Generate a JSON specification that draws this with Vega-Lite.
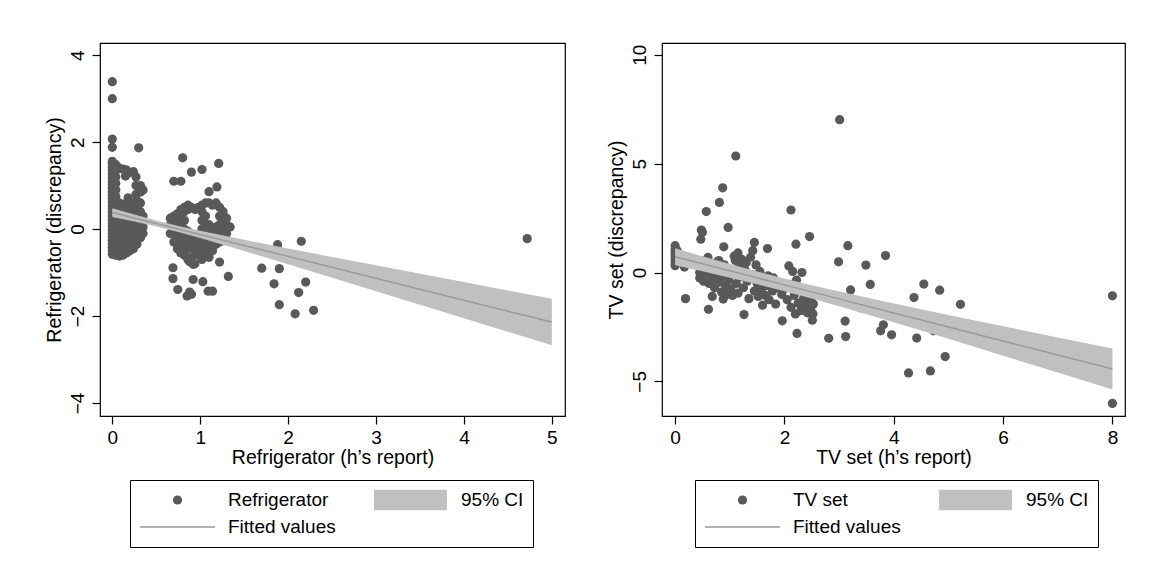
{
"$schema":"https://vega.github.io/schema/vega-lite/v6.json",
"padding":{"left":43,"top":42,"right":0,"bottom":0},
"background":"#ffffff",
"bounds":"flush",
"spacing":97,
"resolve":{"scale":{"color":"independent","shape":"independent","size":"independent"},"legend":{"color":"independent","shape":"independent","size":"independent"}},
"datasets":{
"fridge":[
{"x":0,"y":-0.58,"s":"Refrigerator"},{"x":0,"y":-0.5,"s":"Refrigerator"},{"x":0,"y":-0.42,"s":"Refrigerator"},{"x":0,"y":-0.34,"s":"Refrigerator"},{"x":0,"y":-0.26,"s":"Refrigerator"},{"x":0,"y":-0.18,"s":"Refrigerator"},{"x":0,"y":-0.1,"s":"Refrigerator"},{"x":0,"y":-0.02,"s":"Refrigerator"},{"x":0,"y":0.06,"s":"Refrigerator"},{"x":0,"y":0.14,"s":"Refrigerator"},{"x":0,"y":0.22,"s":"Refrigerator"},{"x":0,"y":0.3,"s":"Refrigerator"},{"x":0,"y":0.38,"s":"Refrigerator"},{"x":0,"y":0.46,"s":"Refrigerator"},{"x":0,"y":0.54,"s":"Refrigerator"},{"x":0,"y":0.62,"s":"Refrigerator"},{"x":0,"y":0.7,"s":"Refrigerator"},{"x":0,"y":0.78,"s":"Refrigerator"},{"x":0,"y":0.86,"s":"Refrigerator"},{"x":0,"y":0.94,"s":"Refrigerator"},{"x":0,"y":1.02,"s":"Refrigerator"},{"x":0,"y":1.1,"s":"Refrigerator"},{"x":0,"y":1.18,"s":"Refrigerator"},{"x":0,"y":1.26,"s":"Refrigerator"},{"x":0,"y":1.34,"s":"Refrigerator"},{"x":0,"y":1.42,"s":"Refrigerator"},{"x":0,"y":1.5,"s":"Refrigerator"},{"x":0,"y":1.56,"s":"Refrigerator"},{"x":0,"y":1.88,"s":"Refrigerator"},{"x":0,"y":2.07,"s":"Refrigerator"},{"x":0,"y":3.0,"s":"Refrigerator"},{"x":0,"y":3.39,"s":"Refrigerator"},
{"x":0.04,"y":-0.6,"s":"Refrigerator"},{"x":0.04,"y":-0.45,"s":"Refrigerator"},{"x":0.04,"y":-0.3,"s":"Refrigerator"},{"x":0.04,"y":-0.15,"s":"Refrigerator"},{"x":0.04,"y":0,"s":"Refrigerator"},{"x":0.04,"y":0.15,"s":"Refrigerator"},{"x":0.04,"y":0.3,"s":"Refrigerator"},{"x":0.04,"y":0.45,"s":"Refrigerator"},{"x":0.04,"y":0.6,"s":"Refrigerator"},{"x":0.04,"y":0.75,"s":"Refrigerator"},{"x":0.04,"y":0.9,"s":"Refrigerator"},{"x":0.04,"y":1.05,"s":"Refrigerator"},{"x":0.04,"y":1.2,"s":"Refrigerator"},{"x":0.04,"y":1.35,"s":"Refrigerator"},{"x":0.04,"y":1.48,"s":"Refrigerator"},
{"x":0.08,"y":-0.62,"s":"Refrigerator"},{"x":0.08,"y":-0.4,"s":"Refrigerator"},{"x":0.08,"y":-0.2,"s":"Refrigerator"},{"x":0.08,"y":0,"s":"Refrigerator"},{"x":0.08,"y":0.2,"s":"Refrigerator"},{"x":0.08,"y":0.4,"s":"Refrigerator"},{"x":0.08,"y":0.6,"s":"Refrigerator"},{"x":0.08,"y":1.4,"s":"Refrigerator"},
{"x":0.12,"y":-0.6,"s":"Refrigerator"},{"x":0.12,"y":-0.45,"s":"Refrigerator"},{"x":0.12,"y":-0.25,"s":"Refrigerator"},{"x":0.12,"y":-0.05,"s":"Refrigerator"},{"x":0.12,"y":0.15,"s":"Refrigerator"},{"x":0.12,"y":0.35,"s":"Refrigerator"},{"x":0.12,"y":0.55,"s":"Refrigerator"},{"x":0.12,"y":1.38,"s":"Refrigerator"},
{"x":0.16,"y":-0.55,"s":"Refrigerator"},{"x":0.16,"y":-0.35,"s":"Refrigerator"},{"x":0.16,"y":-0.15,"s":"Refrigerator"},{"x":0.16,"y":0.05,"s":"Refrigerator"},{"x":0.16,"y":0.25,"s":"Refrigerator"},{"x":0.16,"y":0.45,"s":"Refrigerator"},{"x":0.16,"y":0.6,"s":"Refrigerator"},{"x":0.16,"y":1.36,"s":"Refrigerator"},{"x":0.15,"y":1.22,"s":"Refrigerator"},{"x":0.18,"y":0.72,"s":"Refrigerator"},
{"x":0.2,"y":-0.5,"s":"Refrigerator"},{"x":0.2,"y":-0.3,"s":"Refrigerator"},{"x":0.2,"y":-0.1,"s":"Refrigerator"},{"x":0.2,"y":0.1,"s":"Refrigerator"},{"x":0.2,"y":0.3,"s":"Refrigerator"},{"x":0.2,"y":0.5,"s":"Refrigerator"},{"x":0.2,"y":0.62,"s":"Refrigerator"},{"x":0.2,"y":1.3,"s":"Refrigerator"},
{"x":0.24,"y":-0.45,"s":"Refrigerator"},{"x":0.24,"y":-0.25,"s":"Refrigerator"},{"x":0.24,"y":-0.05,"s":"Refrigerator"},{"x":0.24,"y":0.15,"s":"Refrigerator"},{"x":0.24,"y":0.35,"s":"Refrigerator"},{"x":0.24,"y":0.55,"s":"Refrigerator"},{"x":0.24,"y":1.32,"s":"Refrigerator"},
{"x":0.27,"y":0.8,"s":"Refrigerator"},{"x":0.27,"y":1.0,"s":"Refrigerator"},{"x":0.27,"y":1.2,"s":"Refrigerator"},
{"x":0.28,"y":-0.35,"s":"Refrigerator"},{"x":0.28,"y":-0.15,"s":"Refrigerator"},{"x":0.28,"y":0.05,"s":"Refrigerator"},{"x":0.28,"y":0.25,"s":"Refrigerator"},{"x":0.28,"y":0.45,"s":"Refrigerator"},{"x":0.28,"y":0.65,"s":"Refrigerator"},
{"x":0.32,"y":-0.2,"s":"Refrigerator"},{"x":0.32,"y":0,"s":"Refrigerator"},{"x":0.32,"y":0.2,"s":"Refrigerator"},{"x":0.32,"y":0.4,"s":"Refrigerator"},{"x":0.32,"y":0.6,"s":"Refrigerator"},{"x":0.32,"y":0.85,"s":"Refrigerator"},{"x":0.32,"y":1.0,"s":"Refrigerator"},
{"x":0.35,"y":-0.1,"s":"Refrigerator"},{"x":0.35,"y":0.05,"s":"Refrigerator"},{"x":0.35,"y":0.3,"s":"Refrigerator"},{"x":0.35,"y":0.9,"s":"Refrigerator"},{"x":0.3,"y":1.87,"s":"Refrigerator"},
{"x":0.66,"y":-0.1,"s":"Refrigerator"},{"x":0.66,"y":0.1,"s":"Refrigerator"},{"x":0.66,"y":0.25,"s":"Refrigerator"},
{"x":0.7,"y":-0.3,"s":"Refrigerator"},{"x":0.7,"y":-0.1,"s":"Refrigerator"},{"x":0.7,"y":0.1,"s":"Refrigerator"},{"x":0.7,"y":0.3,"s":"Refrigerator"},
{"x":0.74,"y":-0.45,"s":"Refrigerator"},{"x":0.74,"y":-0.25,"s":"Refrigerator"},{"x":0.74,"y":-0.05,"s":"Refrigerator"},{"x":0.74,"y":0.15,"s":"Refrigerator"},{"x":0.74,"y":0.35,"s":"Refrigerator"},
{"x":0.78,"y":-0.55,"s":"Refrigerator"},{"x":0.78,"y":-0.35,"s":"Refrigerator"},{"x":0.78,"y":-0.15,"s":"Refrigerator"},{"x":0.78,"y":0.05,"s":"Refrigerator"},{"x":0.78,"y":0.25,"s":"Refrigerator"},{"x":0.78,"y":0.45,"s":"Refrigerator"},
{"x":0.82,"y":-0.6,"s":"Refrigerator"},{"x":0.82,"y":-0.4,"s":"Refrigerator"},{"x":0.82,"y":-0.2,"s":"Refrigerator"},{"x":0.82,"y":0,"s":"Refrigerator"},{"x":0.82,"y":0.2,"s":"Refrigerator"},{"x":0.82,"y":0.4,"s":"Refrigerator"},{"x":0.82,"y":0.5,"s":"Refrigerator"},
{"x":0.86,"y":-0.7,"s":"Refrigerator"},{"x":0.86,"y":-0.45,"s":"Refrigerator"},{"x":0.86,"y":-0.25,"s":"Refrigerator"},{"x":0.86,"y":-0.05,"s":"Refrigerator"},{"x":0.86,"y":0.45,"s":"Refrigerator"},{"x":0.86,"y":0.55,"s":"Refrigerator"},
{"x":0.9,"y":-0.65,"s":"Refrigerator"},{"x":0.9,"y":-0.4,"s":"Refrigerator"},{"x":0.9,"y":-0.2,"s":"Refrigerator"},{"x":0.9,"y":0.5,"s":"Refrigerator"},
{"x":0.94,"y":-0.8,"s":"Refrigerator"},{"x":0.94,"y":-0.5,"s":"Refrigerator"},{"x":0.94,"y":-0.3,"s":"Refrigerator"},{"x":0.94,"y":0.45,"s":"Refrigerator"},
{"x":0.98,"y":-0.6,"s":"Refrigerator"},{"x":0.98,"y":-0.35,"s":"Refrigerator"},{"x":0.98,"y":-0.15,"s":"Refrigerator"},{"x":0.98,"y":0.5,"s":"Refrigerator"},
{"x":1.02,"y":-0.7,"s":"Refrigerator"},{"x":1.02,"y":-0.45,"s":"Refrigerator"},{"x":1.02,"y":-0.2,"s":"Refrigerator"},{"x":1.02,"y":0,"s":"Refrigerator"},{"x":1.02,"y":0.2,"s":"Refrigerator"},{"x":1.02,"y":0.4,"s":"Refrigerator"},{"x":1.02,"y":0.55,"s":"Refrigerator"},
{"x":1.06,"y":-0.55,"s":"Refrigerator"},{"x":1.06,"y":-0.3,"s":"Refrigerator"},{"x":1.06,"y":-0.1,"s":"Refrigerator"},{"x":1.06,"y":0.1,"s":"Refrigerator"},{"x":1.06,"y":0.3,"s":"Refrigerator"},{"x":1.06,"y":0.6,"s":"Refrigerator"},
{"x":1.1,"y":-0.65,"s":"Refrigerator"},{"x":1.1,"y":-0.4,"s":"Refrigerator"},{"x":1.1,"y":-0.2,"s":"Refrigerator"},{"x":1.1,"y":0,"s":"Refrigerator"},{"x":1.1,"y":0.1,"s":"Refrigerator"},{"x":1.1,"y":0.6,"s":"Refrigerator"},
{"x":1.14,"y":-0.5,"s":"Refrigerator"},{"x":1.14,"y":-0.25,"s":"Refrigerator"},{"x":1.14,"y":-0.05,"s":"Refrigerator"},{"x":1.14,"y":0.55,"s":"Refrigerator"},
{"x":1.18,"y":-0.35,"s":"Refrigerator"},{"x":1.18,"y":-0.1,"s":"Refrigerator"},{"x":1.18,"y":0.05,"s":"Refrigerator"},{"x":1.18,"y":0.6,"s":"Refrigerator"},
{"x":1.22,"y":-0.3,"s":"Refrigerator"},{"x":1.22,"y":-0.1,"s":"Refrigerator"},{"x":1.22,"y":0.1,"s":"Refrigerator"},{"x":1.22,"y":0.3,"s":"Refrigerator"},{"x":1.22,"y":0.5,"s":"Refrigerator"},
{"x":1.26,"y":-0.2,"s":"Refrigerator"},{"x":1.26,"y":0,"s":"Refrigerator"},{"x":1.26,"y":0.2,"s":"Refrigerator"},{"x":1.26,"y":0.4,"s":"Refrigerator"},
{"x":1.3,"y":-0.1,"s":"Refrigerator"},{"x":1.3,"y":0.1,"s":"Refrigerator"},{"x":1.3,"y":0.25,"s":"Refrigerator"},{"x":1.34,"y":0.05,"s":"Refrigerator"},
{"x":0.8,"y":1.64,"s":"Refrigerator"},{"x":0.7,"y":1.1,"s":"Refrigerator"},{"x":0.78,"y":1.1,"s":"Refrigerator"},{"x":0.9,"y":1.31,"s":"Refrigerator"},{"x":1.02,"y":1.37,"s":"Refrigerator"},{"x":1.21,"y":1.51,"s":"Refrigerator"},{"x":1.19,"y":0.97,"s":"Refrigerator"},{"x":1.1,"y":0.86,"s":"Refrigerator"},
{"x":0.69,"y":-0.89,"s":"Refrigerator"},{"x":0.69,"y":-1.14,"s":"Refrigerator"},{"x":0.745,"y":-1.39,"s":"Refrigerator"},{"x":0.85,"y":-1.54,"s":"Refrigerator"},{"x":0.9,"y":-1.5,"s":"Refrigerator"},{"x":0.88,"y":-1.45,"s":"Refrigerator"},{"x":0.92,"y":-1.16,"s":"Refrigerator"},{"x":0.92,"y":-0.81,"s":"Refrigerator"},{"x":0.88,"y":-0.75,"s":"Refrigerator"},{"x":1.03,"y":-1.21,"s":"Refrigerator"},{"x":1.09,"y":-1.43,"s":"Refrigerator"},{"x":1.14,"y":-1.43,"s":"Refrigerator"},{"x":1.22,"y":-0.76,"s":"Refrigerator"},{"x":1.32,"y":-1.09,"s":"Refrigerator"},{"x":1.05,"y":-0.62,"s":"Refrigerator"},{"x":1.1,"y":-0.55,"s":"Refrigerator"},
{"x":1.7,"y":-0.9,"s":"Refrigerator"},{"x":1.84,"y":-1.26,"s":"Refrigerator"},{"x":1.88,"y":-0.36,"s":"Refrigerator"},{"x":1.9,"y":-0.91,"s":"Refrigerator"},{"x":1.9,"y":-1.74,"s":"Refrigerator"},{"x":2.08,"y":-1.95,"s":"Refrigerator"},{"x":2.15,"y":-0.28,"s":"Refrigerator"},{"x":2.12,"y":-1.46,"s":"Refrigerator"},{"x":2.2,"y":-1.22,"s":"Refrigerator"},{"x":2.29,"y":-1.87,"s":"Refrigerator"},{"x":4.72,"y":-0.22,"s":"Refrigerator"}
],
"fridgefit":[
{"x":0,"fit":0.38,"lo":0.28,"hi":0.48},{"x":0.25,"fit":0.254,"lo":0.173,"hi":0.335},{"x":0.5,"fit":0.128,"lo":0.058,"hi":0.198},{"x":0.75,"fit":0.002,"lo":-0.069,"hi":0.073},{"x":1,"fit":-0.124,"lo":-0.208,"hi":-0.04},{"x":1.5,"fit":-0.376,"lo":-0.505,"hi":-0.247},{"x":2,"fit":-0.628,"lo":-0.81,"hi":-0.446},{"x":2.5,"fit":-0.88,"lo":-1.119,"hi":-0.641},{"x":3,"fit":-1.132,"lo":-1.429,"hi":-0.835},{"x":3.5,"fit":-1.384,"lo":-1.74,"hi":-1.028},{"x":4,"fit":-1.636,"lo":-2.052,"hi":-1.22},{"x":4.5,"fit":-1.888,"lo":-2.363,"hi":-1.413},{"x":5,"fit":-2.14,"lo":-2.675,"hi":-1.605}
],
"tv":[
{"x":0,"y":1.23,"s":"TV set"},{"x":0,"y":1.05,"s":"TV set"},{"x":0,"y":0.9,"s":"TV set"},{"x":0,"y":0.77,"s":"TV set"},{"x":0,"y":0.6,"s":"TV set"},{"x":0,"y":0.45,"s":"TV set"},{"x":0,"y":0.31,"s":"TV set"},{"x":0.04,"y":0.5,"s":"TV set"},{"x":0.04,"y":1.0,"s":"TV set"},{"x":0.17,"y":0.25,"s":"TV set"},{"x":0.19,"y":-1.2,"s":"TV set"},{"x":0.6,"y":0.69,"s":"TV set"},{"x":0.8,"y":0.55,"s":"TV set"},
{"x":0.47,"y":1.53,"s":"TV set"},{"x":0.48,"y":1.95,"s":"TV set"},{"x":0.5,"y":1.85,"s":"TV set"},{"x":0.57,"y":2.8,"s":"TV set"},{"x":0.61,"y":-1.69,"s":"TV set"},{"x":0.68,"y":-1.1,"s":"TV set"},{"x":0.81,"y":3.22,"s":"TV set"},{"x":0.87,"y":3.89,"s":"TV set"},{"x":0.89,"y":1.18,"s":"TV set"},{"x":0.97,"y":2.07,"s":"TV set"},{"x":0.88,"y":-1.22,"s":"TV set"},{"x":1.11,"y":5.35,"s":"TV set"},{"x":1.26,"y":-1.93,"s":"TV set"},{"x":1.45,"y":1.38,"s":"TV set"},{"x":1.69,"y":1.1,"s":"TV set"},{"x":1.84,"y":-1.45,"s":"TV set"},{"x":1.96,"y":-2.22,"s":"TV set"},{"x":2.12,"y":2.87,"s":"TV set"},{"x":2.21,"y":1.3,"s":"TV set"},{"x":2.23,"y":-2.8,"s":"TV set"},{"x":2.46,"y":1.65,"s":"TV set"},{"x":2.51,"y":-2.19,"s":"TV set"},{"x":2.81,"y":-3.02,"s":"TV set"},{"x":2.99,"y":0.49,"s":"TV set"},{"x":3.01,"y":7.02,"s":"TV set"},{"x":3.11,"y":-2.23,"s":"TV set"},{"x":3.12,"y":-2.94,"s":"TV set"},{"x":3.16,"y":1.23,"s":"TV set"},{"x":3.21,"y":-0.8,"s":"TV set"},{"x":3.39,"y":-1.62,"s":"TV set"},{"x":3.49,"y":0.34,"s":"TV set"},{"x":3.57,"y":-0.55,"s":"TV set"},{"x":3.76,"y":-2.68,"s":"TV set"},{"x":3.81,"y":-2.4,"s":"TV set"},{"x":3.85,"y":0.78,"s":"TV set"},{"x":3.96,"y":-2.86,"s":"TV set"},{"x":4.27,"y":-4.61,"s":"TV set"},{"x":4.37,"y":-1.15,"s":"TV set"},{"x":4.42,"y":-3.01,"s":"TV set"},{"x":4.55,"y":-0.53,"s":"TV set"},{"x":4.67,"y":-4.52,"s":"TV set"},{"x":4.73,"y":-2.68,"s":"TV set"},{"x":4.84,"y":-0.81,"s":"TV set"},{"x":4.94,"y":-3.86,"s":"TV set"},{"x":5.22,"y":-1.46,"s":"TV set"},{"x":8,"y":-1.07,"s":"TV set"},{"x":8,"y":-6.01,"s":"TV set"},
{"x":0.45,"y":0,"s":"TV set"},{"x":0.45,"y":-0.25,"s":"TV set"},{"x":0.5,"y":0.1,"s":"TV set"},{"x":0.52,"y":-0.4,"s":"TV set"},{"x":0.55,"y":-0.1,"s":"TV set"},{"x":0.58,"y":0.6,"s":"TV set"},{"x":0.6,"y":0.3,"s":"TV set"},{"x":0.62,"y":-0.5,"s":"TV set"},{"x":0.65,"y":0.05,"s":"TV set"},{"x":0.68,"y":-0.3,"s":"TV set"},{"x":0.7,"y":0.2,"s":"TV set"},{"x":0.72,"y":-0.7,"s":"TV set"},{"x":0.75,"y":-0.15,"s":"TV set"},{"x":0.78,"y":0.5,"s":"TV set"},{"x":0.8,"y":-0.45,"s":"TV set"},{"x":0.82,"y":0.1,"s":"TV set"},{"x":0.85,"y":-0.9,"s":"TV set"},{"x":0.88,"y":-0.2,"s":"TV set"},{"x":0.9,"y":0.35,"s":"TV set"},{"x":0.92,"y":-0.6,"s":"TV set"},{"x":0.95,"y":-1.0,"s":"TV set"},{"x":0.98,"y":-0.35,"s":"TV set"},{"x":1.0,"y":0.05,"s":"TV set"},{"x":1.02,"y":-0.75,"s":"TV set"},{"x":1.05,"y":-1.05,"s":"TV set"},{"x":1.08,"y":0.75,"s":"TV set"},{"x":1.1,"y":0.55,"s":"TV set"},{"x":1.12,"y":-0.5,"s":"TV set"},{"x":1.15,"y":0.9,"s":"TV set"},{"x":1.15,"y":-0.95,"s":"TV set"},{"x":1.18,"y":0.3,"s":"TV set"},{"x":1.2,"y":-0.2,"s":"TV set"},{"x":1.22,"y":0.6,"s":"TV set"},{"x":1.25,"y":-0.7,"s":"TV set"},{"x":1.28,"y":0.1,"s":"TV set"},{"x":1.3,"y":0.45,"s":"TV set"},{"x":1.32,"y":-0.4,"s":"TV set"},{"x":1.35,"y":-1.2,"s":"TV set"},{"x":1.38,"y":0.7,"s":"TV set"},{"x":1.4,"y":-0.1,"s":"TV set"},{"x":1.42,"y":1.0,"s":"TV set"},{"x":1.45,"y":-0.85,"s":"TV set"},{"x":1.48,"y":0.35,"s":"TV set"},{"x":1.5,"y":-0.5,"s":"TV set"},{"x":1.52,"y":-1.1,"s":"TV set"},{"x":1.55,"y":0.05,"s":"TV set"},{"x":1.58,"y":-0.75,"s":"TV set"},{"x":1.6,"y":-1.5,"s":"TV set"},{"x":1.62,"y":-0.3,"s":"TV set"},{"x":1.65,"y":-1.05,"s":"TV set"},{"x":1.68,"y":-0.6,"s":"TV set"},{"x":1.7,"y":-0.15,"s":"TV set"},{"x":1.72,"y":-1.25,"s":"TV set"},{"x":1.75,"y":-0.5,"s":"TV set"},{"x":1.78,"y":-0.85,"s":"TV set"},{"x":1.8,"y":-0.25,"s":"TV set"},{"x":1.85,"y":-0.7,"s":"TV set"},{"x":1.9,"y":-0.45,"s":"TV set"},{"x":1.95,"y":-1.0,"s":"TV set"},{"x":2.0,"y":-0.75,"s":"TV set"},{"x":2.05,"y":-1.25,"s":"TV set"},{"x":2.08,"y":0.3,"s":"TV set"},{"x":2.1,"y":-0.55,"s":"TV set"},{"x":2.12,"y":-1.6,"s":"TV set"},{"x":2.15,"y":0.05,"s":"TV set"},{"x":2.18,"y":-1.05,"s":"TV set"},{"x":2.2,"y":-1.9,"s":"TV set"},{"x":2.22,"y":-0.35,"s":"TV set"},{"x":2.25,"y":-1.4,"s":"TV set"},{"x":2.28,"y":-0.8,"s":"TV set"},{"x":2.3,"y":-1.75,"s":"TV set"},{"x":2.32,"y":0,"s":"TV set"},{"x":2.35,"y":-1.2,"s":"TV set"},{"x":2.38,"y":-1.55,"s":"TV set"},{"x":2.4,"y":-0.95,"s":"TV set"},{"x":2.42,"y":-1.85,"s":"TV set"},{"x":2.45,"y":-1.35,"s":"TV set"},{"x":2.48,"y":-1.65,"s":"TV set"},{"x":2.5,"y":-1.1,"s":"TV set"},{"x":2.52,"y":-1.9,"s":"TV set"},{"x":2.53,"y":-1.45,"s":"TV set"}
],
"tvfit":[
{"x":0,"fit":0.72,"lo":0.33,"hi":1.11},{"x":0.5,"fit":0.398,"lo":0.052,"hi":0.744},{"x":1,"fit":0.076,"lo":-0.236,"hi":0.388},{"x":1.5,"fit":-0.246,"lo":-0.539,"hi":0.047},{"x":2,"fit":-0.568,"lo":-0.859,"hi":-0.277},{"x":2.5,"fit":-0.89,"lo":-1.197,"hi":-0.583},{"x":3,"fit":-1.212,"lo":-1.55,"hi":-0.874},{"x":4,"fit":-1.856,"lo":-2.287,"hi":-1.425},{"x":5,"fit":-2.5,"lo":-3.047,"hi":-1.953},{"x":6,"fit":-3.144,"lo":-3.819,"hi":-2.469},{"x":7,"fit":-3.788,"lo":-4.596,"hi":-2.98},{"x":8,"fit":-4.432,"lo":-5.377,"hi":-3.487}
]
},
"hconcat":[
{
"width":465,"height":373,
"layer":[
{"data":{"name":"fridge"},"mark":{"type":"point","filled":true,"opacity":1,"strokeWidth":0},
"encoding":{
"x":{"field":"x","type":"quantitative","title":"Refrigerator (h’s report)","scale":{"domain":[-0.14,5.15],"nice":false,"zero":false},"axis":{"values":[0,1,2,3,4,5],"format":"d"}},
"y":{"field":"y","type":"quantitative","title":"Refrigerator (discrepancy)","scale":{"domain":[-4.3,4.28],"nice":false,"zero":false},"axis":{"values":[-4,-2,0,2,4],"format":"d"}},
"color":{"field":"s","type":"nominal","scale":{"domain":["Refrigerator","95% CI","Fitted values"],"range":["#595959","#c0c0c0","#9a9a9a"]},"legend":{"orient":"none","legendX":30,"legendY":437,"title":null,"columns":2,"direction":"horizontal","encode":{"symbols":{"update":{"stroke":{"signal":"datum.value === 'Fitted values' ? '#9a9a9a' : 'transparent'"},"strokeWidth":{"value":1.5}}}}}},
"shape":{"field":"s","type":"nominal","scale":{"domain":["Refrigerator","95% CI","Fitted values"],"range":["circle","M-1.364,-0.382H1.364V0.382H-1.364Z","stroke"]},"legend":{"orient":"none","legendX":30,"legendY":437,"title":null,"columns":2,"direction":"horizontal","encode":{"symbols":{"update":{"stroke":{"signal":"datum.value === 'Fitted values' ? '#9a9a9a' : 'transparent'"},"strokeWidth":{"value":1.5}}}}}},
"size":{"field":"s","type":"nominal","scale":{"domain":["Refrigerator","95% CI","Fitted values"],"range":[85,5625,5625]},"legend":{"orient":"none","legendX":30,"legendY":437,"title":null,"columns":2,"direction":"horizontal","encode":{"symbols":{"update":{"stroke":{"signal":"datum.value === 'Fitted values' ? '#9a9a9a' : 'transparent'"},"strokeWidth":{"value":1.5}}}}}}
}},
{"data":{"name":"fridgefit"},"mark":{"type":"area","color":"#c0c0c0","opacity":1},
"encoding":{"x":{"field":"x","type":"quantitative","title":"Refrigerator (h’s report)"},"y":{"field":"lo","type":"quantitative","title":"Refrigerator (discrepancy)"},"y2":{"field":"hi"}}},
{"data":{"name":"fridgefit"},"mark":{"type":"line","color":"#9a9a9a","strokeWidth":1.5},
"encoding":{"x":{"field":"x","type":"quantitative","title":"Refrigerator (h’s report)"},"y":{"field":"fit","type":"quantitative","title":"Refrigerator (discrepancy)"}}}
]
},
{
"width":463,"height":373,
"layer":[
{"data":{"name":"tv"},"mark":{"type":"point","filled":true,"opacity":1,"strokeWidth":0},
"encoding":{
"x":{"field":"x","type":"quantitative","title":"TV set (h’s report)","scale":{"domain":[-0.24,8.23],"nice":false,"zero":false},"axis":{"values":[0,2,4,6,8],"format":"d"}},
"y":{"field":"y","type":"quantitative","title":"TV set (discrepancy)","scale":{"domain":[-6.59,10.54],"nice":false,"zero":false},"axis":{"values":[-5,0,5,10],"format":"d"}},
"color":{"field":"s","type":"nominal","scale":{"domain":["TV set","95% CI","Fitted values"],"range":["#595959","#c0c0c0","#9a9a9a"]},"legend":{"orient":"none","legendX":33,"legendY":437,"title":null,"columns":2,"direction":"horizontal","encode":{"symbols":{"update":{"stroke":{"signal":"datum.value === 'Fitted values' ? '#9a9a9a' : 'transparent'"},"strokeWidth":{"value":1.5}}}}}},
"shape":{"field":"s","type":"nominal","scale":{"domain":["TV set","95% CI","Fitted values"],"range":["circle","M-1.364,-0.382H1.364V0.382H-1.364Z","stroke"]},"legend":{"orient":"none","legendX":33,"legendY":437,"title":null,"columns":2,"direction":"horizontal","encode":{"symbols":{"update":{"stroke":{"signal":"datum.value === 'Fitted values' ? '#9a9a9a' : 'transparent'"},"strokeWidth":{"value":1.5}}}}}},
"size":{"field":"s","type":"nominal","scale":{"domain":["TV set","95% CI","Fitted values"],"range":[85,5625,5625]},"legend":{"orient":"none","legendX":33,"legendY":437,"title":null,"columns":2,"direction":"horizontal","encode":{"symbols":{"update":{"stroke":{"signal":"datum.value === 'Fitted values' ? '#9a9a9a' : 'transparent'"},"strokeWidth":{"value":1.5}}}}}}
}},
{"data":{"name":"tvfit"},"mark":{"type":"area","color":"#c0c0c0","opacity":1},
"encoding":{"x":{"field":"x","type":"quantitative","title":"TV set (h’s report)"},"y":{"field":"lo","type":"quantitative","title":"TV set (discrepancy)"},"y2":{"field":"hi"}}},
{"data":{"name":"tvfit"},"mark":{"type":"line","color":"#9a9a9a","strokeWidth":1.5},
"encoding":{"x":{"field":"x","type":"quantitative","title":"TV set (h’s report)"},"y":{"field":"fit","type":"quantitative","title":"TV set (discrepancy)"}}}
]
}
],
"config":{
"font":"Liberation Sans",
"view":{"stroke":"#000000","strokeWidth":1.2},
"axis":{"grid":false,"domain":false,"tickColor":"#000000","tickSize":8,"tickWidth":1.2,"labelFontSize":19,"titleFontSize":19.5,"labelColor":"#000000","titleColor":"#000000","titleFontWeight":"normal","labelFont":"Liberation Sans","titleFont":"Liberation Sans","labelFlush":false,"labelOverlap":false},
"axisY":{"labelAngle":-90,"labelAlign":"center","labelBaseline":"alphabetic","labelPadding":9,"titlePadding":4},
"axisX":{"labelPadding":4,"titlePadding":1},
"legend":{"padding":9,"strokeColor":"#000000","strokeWidth":1,"fillColor":"#ffffff","columnPadding":36,"rowPadding":5,"labelOffset":12,"symbolOffset":0,"clipHeight":22,"labelFontSize":19,"labelFont":"Liberation Sans","labelColor":"#000000","symbolStrokeWidth":1.5,"symbolOpacity":1,"labelLimit":300}
}
}
